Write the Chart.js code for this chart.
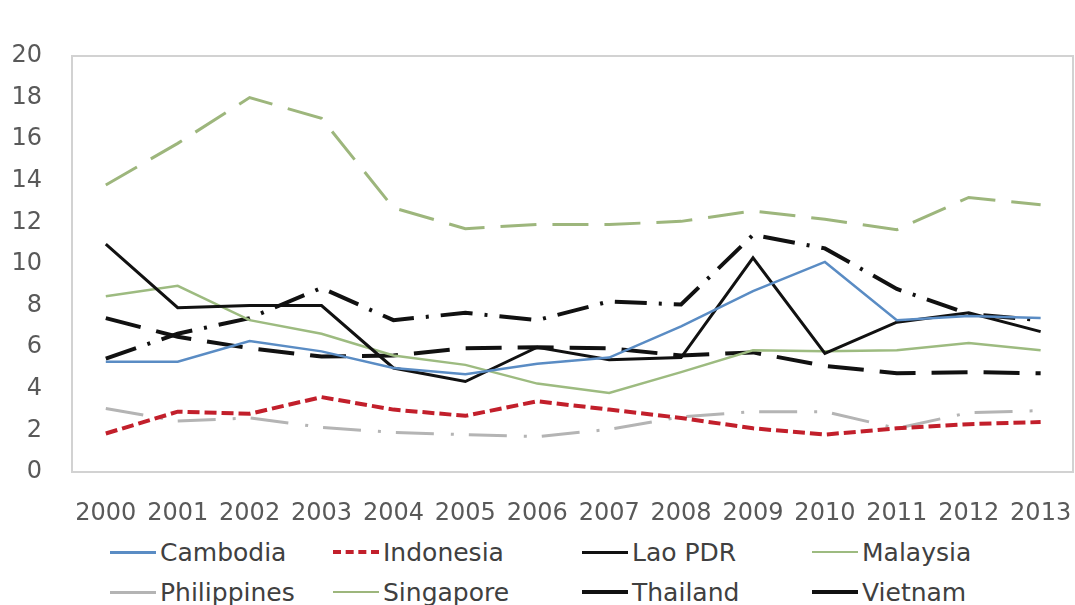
<!DOCTYPE html>
<html>
<head>
<meta charset="utf-8">
<script src="https://cdn.jsdelivr.net/npm/chart.js@4.4.1/dist/chart.umd.min.js"></script>
<style>
  html, body { margin: 0; padding: 0; background: #fff; overflow: hidden; }
  #wrap   { position: relative; width: 1075px; height: 605px; }
  #chart  { position: absolute; left: 0; top: 0; }
  #legend {
    position: absolute; left: 110px; top: 538px;
    display: grid; grid-template-columns: 223px 249px 230px 240px; row-gap: 12px;
    font: 25px 'DejaVu Sans', sans-serif; color: #404040;
  }
  .lg-item { display: flex; align-items: center; height: 28px; white-space: nowrap; }
  .lg-line { width: 46px; height: 0; margin-right: 4px; }
</style>
</head>
<body>
<div id="wrap">
  <canvas id="chart" width="1075" height="532"></canvas>
  <div id="legend"></div>
</div>
<script>
/* ── Data ───────────────────────────────────────────────────── */
const years       = [2000, 2001, 2002, 2003, 2004, 2005, 2006, 2007, 2008, 2009, 2010, 2011, 2012, 2013];
const yTicks      = [0, 2, 4, 6, 8, 10, 12, 14, 16, 18, 20];

const cambodia    = [5.3, 5.3, 6.3, 5.8, 5.0, 4.7, 5.2, 5.5, 7.0, 8.7, 10.1, 7.3, 7.5, 7.4];
const indonesia   = [1.85, 2.9, 2.8, 3.6, 3.0, 2.7, 3.4, 3.0, 2.6, 2.1, 1.8, 2.1, 2.3, 2.4];
const laoPdr      = [10.95, 7.9, 8.0, 8.0, 5.0, 4.35, 6.0, 5.4, 5.5, 10.3, 5.7, 7.2, 7.65, 6.75];
const malaysia    = [8.45, 8.95, 7.3, 6.65, 5.6, 5.15, 4.25, 3.8, 4.8, 5.85, 5.8, 5.85, 6.2, 5.85];
const philippines = [3.05, 2.45, 2.6, 2.15, 1.9, 1.8, 1.7, 2.05, 2.65, 2.9, 2.9, 2.1, 2.85, 2.95];
const singapore   = [13.8, 15.8, 18.0, 17.0, 12.7, 11.7, 11.9, 11.9, 12.05, 12.55, 12.15, 11.65, 13.2, 12.85];
const thailand    = [7.4, 6.5, 5.95, 5.55, 5.6, 5.95, 6.0, 5.95, 5.6, 5.75, 5.1, 4.75, 4.8, 4.75];
const vietnam     = [5.45, 6.65, 7.4, 8.85, 7.3, 7.65, 7.3, 8.2, 8.05, 11.4, 10.75, 8.8, 7.6, 7.3];

/* ── Series styles ──────────────────────────────────────────── */
const series = [
  { label: 'Cambodia',    data: cambodia,    color: '#5a8cc4', width: 2.5, dash: [],              legendW: 3, legendDash: false },
  { label: 'Indonesia',   data: indonesia,   color: '#c21f2b', width: 4,   dash: [12, 5],         legendW: 4, legendDash: true  },
  { label: 'Lao PDR',     data: laoPdr,      color: '#111111', width: 3,   dash: [],              legendW: 3, legendDash: false },
  { label: 'Malaysia',    data: malaysia,    color: '#9dbb80', width: 2.5, dash: [],              legendW: 2, legendDash: false },
  { label: 'Philippines', data: philippines, color: '#b4b4b4', width: 3,   dash: [38, 17, 3, 15], legendW: 3, legendDash: false },
  { label: 'Singapore',   data: singapore,   color: '#9db67c', width: 3,   dash: [36, 16],        legendW: 2, legendDash: false },
  { label: 'Thailand',    data: thailand,    color: '#111111', width: 4,   dash: [36, 16],        legendW: 4, legendDash: false },
  { label: 'Vietnam',     data: vietnam,     color: '#111111', width: 4,   dash: [32, 12, 3, 12], legendW: 4, legendDash: false }
];

const TICK_FONT  = { family: "'DejaVu Sans', sans-serif", size: 24 };
const TICK_COLOR = '#595959';

/* ── Plot frame ─────────────────────────────────────────────── */
const frame = {
  id: 'frame',
  beforeDatasetsDraw(chart) {
    const { ctx, chartArea: a } = chart;
    ctx.save();
    ctx.strokeStyle = '#d2d2d2';
    ctx.lineWidth = 2;
    ctx.strokeRect(a.left, a.top, a.right - a.left, a.bottom - a.top);
    ctx.restore();
  }
};

/* ── Chart ──────────────────────────────────────────────────── */
new Chart(document.getElementById('chart'), {
  type: 'line',
  data: {
    datasets: series.map(s => ({
      label: s.label,
      data: years.map((yr, i) => ({ x: yr, y: s.data[i] })),
      borderColor: s.color,
      borderWidth: s.width,
      borderDash: s.dash,
      pointRadius: 0,
      tension: 0,
      fill: false
    }))
  },
  options: {
    responsive: false,
    animation: false,
    layout: { padding: { top: 56, right: 2, left: 0, bottom: 0 } },
    plugins: { legend: { display: false }, tooltip: { enabled: false } },
    scales: {
      x: {
        type: 'linear',
        min: 1999.53, max: 2013.45,
        afterBuildTicks: s => { s.ticks = years.map(v => ({ value: v })); },
        grid: { display: false, drawTicks: false },
        border: { display: false },
        ticks: { color: TICK_COLOR, font: TICK_FONT, padding: 27, maxRotation: 0, autoSkip: false, callback: v => String(v) },
        afterFit: s => { s.height = 60; s.paddingLeft = 0; s.paddingRight = 0; }
      },
      y: {
        min: 0, max: 20,
        afterBuildTicks: s => { s.ticks = yTicks.map(v => ({ value: v })); },
        grid: { display: false, drawTicks: false },
        border: { display: false },
        ticks: { color: TICK_COLOR, font: TICK_FONT, padding: 30 },
        afterFit: s => { s.width = 72; }
      }
    }
  },
  plugins: [frame]
});

/* ── Legend ─────────────────────────────────────────────────── */
document.getElementById('legend').innerHTML = series.map(s => `
  <div class="lg-item">
    <span class="lg-line" style="border-top:${s.legendW}px ${s.legendDash ? 'dashed' : 'solid'} ${s.color}"></span>
    <span>${s.label}</span>
  </div>`).join('');
</script>
</body>
</html>
